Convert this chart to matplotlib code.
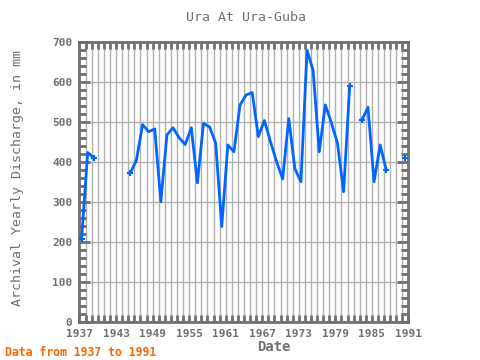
import numpy as np
from matplotlib import pyplot, ticker

# yearly discharge (nan = no data)
years = list(range(1937, 1991))
discharge = [
    208, 423, 410, np.nan, np.nan, np.nan, np.nan, np.nan,  # 1937-1944
    372, 404, 493, 475, 482, 300, 467, 485, 460, 443,       # 1945-1954
    485, 347, 496, 487, 447, 238, 442, 425, 542, 567,       # 1955-1964
    573, 463, 503, 450, 400, 357, 508, 383, 350, 679,       # 1965-1974
    628, 425, 542, 497, 446, 325, 589, np.nan, 504, 536,    # 1975-1984
    350, 442, 379, np.nan, np.nan, 410,                     # 1985-1990
]
x_offset = 0.35  # points sit a bit past the year tick
tick_years = [1937, 1943, 1949, 1955, 1961, 1967, 1973, 1979, 1985, 1991]

title = "Ura At Ura-Guba"
ylabel = "Archival Yearly Discharge, in mm"
xlabel = "Date"
note = "Data from 1937 to 1991"

FONT = "DejaVu Sans Mono"
GREY = "#707070"
LINE = "#0066ff"


def main():
    x = np.array(years) + x_offset
    y = np.array(discharge, dtype=float)

    fig, ax = pyplot.subplots(figsize=(4.8, 3.6), dpi=100)
    fig.subplots_adjust(left=0.1656, right=0.851, bottom=0.1064, top=0.884)

    ax.plot(x, y, color=LINE, lw=2, solid_capstyle="round", zorder=3)
    # mark ends of segments so isolated points show up
    ok = ~np.isnan(y)
    prev = np.concatenate([[False], ok[:-1]])
    nxt = np.concatenate([ok[1:], [False]])
    ends = ok & (~prev | ~nxt)
    ax.plot(x[ends], y[ends], ls="none", marker="+", ms=4, mew=1.5,
            color=LINE, zorder=3)

    ax.set_xlim(1937, 1991)
    ax.set_ylim(0, 700)
    ax.xaxis.set_major_locator(ticker.FixedLocator(tick_years))
    ax.xaxis.set_minor_locator(ticker.MultipleLocator(1))
    ax.yaxis.set_major_locator(ticker.MultipleLocator(100))
    ax.yaxis.set_minor_locator(ticker.MultipleLocator(20))

    ax.grid(True, which="minor", axis="x", color="#b0b0b0", lw=1)
    ax.grid(True, which="major", axis="x", color="#b0b0b0", lw=1)
    ax.grid(True, which="major", axis="y", color="#b0b0b0", lw=1)
    ax.set_axisbelow(True)

    for s in ax.spines.values():
        s.set_color(GREY)
        s.set_linewidth(2)
    ax.tick_params(which="both", direction="in", top=True, right=True,
                   color=GREY, width=2, labelcolor=GREY, labelsize=8)
    ax.tick_params(which="major", length=8, pad=5)
    ax.tick_params(which="minor", length=5)
    ax.tick_params(axis="x", which="major", length=5)
    for lab in ax.get_xticklabels() + ax.get_yticklabels():
        lab.set_fontfamily(FONT)
        lab.set_fontweight("bold")
    ylabs = ax.get_yticklabels()
    ylabs[0].set_va("bottom")
    ylabs[-1].set_va("top")

    fig.text(0.512, 0.952, title, ha="center", va="center", family=FONT,
             fontsize=9.5, color=GREY)
    fig.text(0.036, 0.505, ylabel, ha="center", va="center", rotation=90,
             family=FONT, fontsize=9.5, color=GREY)
    fig.text(0.571, 0.035, xlabel, ha="center", va="center", family=FONT,
             fontsize=10, color=GREY, weight="bold")
    fig.text(0.01, 0.022, note, ha="left", va="center", family=FONT,
             fontsize=8.3, color="#ff6600", weight="bold")

    fig.savefig("out.png", dpi=100)


if __name__ == "__main__":
    main()
